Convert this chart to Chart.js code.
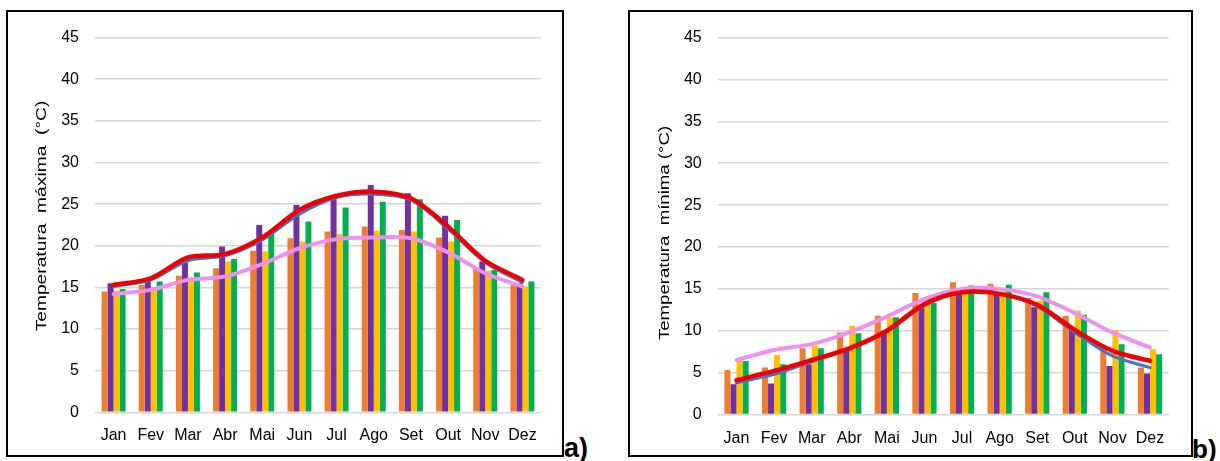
<!DOCTYPE html>
<html>
<head>
<meta charset="utf-8">
<script src="https://cdn.jsdelivr.net/npm/chart.js@4.4.1/dist/chart.umd.min.js"></script>
<style>
  html, body { margin: 0; padding: 0; background: #fff; width: 1220px; height: 461px; overflow: hidden; position: relative; }
  .panel { position: absolute; border: 2px solid #000; box-sizing: border-box; background: #fff; }
  .panel canvas { display: block; }
  .tag { position: absolute; font-family: "Liberation Sans", Arial, sans-serif; font-weight: bold; line-height: 1; color: #000; }
</style>
</head>
<body>
<div class="panel" style="left:6px; top:10px; width:558px; height:447px;"><canvas id="chartMax" width="554" height="443"></canvas></div>
<div class="panel" style="left:628px; top:10px; width:565px; height:447px;"><canvas id="chartMin" width="561" height="443"></canvas></div>
<div class="tag" style="left:564px; top:435px; font-size:27px;">a)</div>
<div class="tag" style="left:1192px; top:436px; font-size:26px;">b)</div>

<script>
// Month labels and y-axis ticks
const months = ['Jan', 'Fev', 'Mar', 'Abr', 'Mai', 'Jun', 'Jul', 'Ago', 'Set', 'Out', 'Nov', 'Dez'];
const yTickValues = [0, 5, 10, 15, 20, 25, 30, 35, 40, 45];

// (a) Temperatura máxima (°C)
const maxOrange = [14.5, 15.3, 16.4, 17.3, 19.4, 20.9, 21.7, 22.3, 21.9, 21.0, 17.2, 15.3];
const maxPurple = [15.5, 15.8, 18.0, 19.9, 22.5, 24.9, 26.1, 27.3, 26.3, 23.6, 18.1, 15.5];
const maxYellow = [14.6, 15.0, 16.2, 18.1, 19.3, 20.5, 21.4, 21.8, 21.7, 20.5, 17.0, 15.1];
const maxGreen  = [14.8, 15.7, 16.8, 18.4, 21.5, 22.9, 24.6, 25.3, 25.6, 23.1, 17.1, 15.7];
const maxBlue   = [15.1, 15.9, 18.2, 18.8, 20.7, 23.8, 25.8, 26.2, 25.5, 22.0, 18.0, 15.6];
const maxRed    = [15.3, 16.1, 18.6, 19.0, 21.0, 24.3, 26.0, 26.5, 25.7, 22.3, 18.2, 15.9];
const maxPink   = [14.2, 14.7, 15.9, 16.3, 17.8, 19.7, 20.8, 21.0, 20.9, 19.2, 16.7, 15.1];

// (b) Temperatura mínima (°C)
const minOrange = [5.3, 5.6, 7.9, 9.8, 11.8, 14.5, 15.8, 15.6, 13.9, 11.8, 7.8, 5.6];
const minPurple = [3.6, 3.7, 6.0, 7.9, 10.0, 13.0, 14.5, 14.3, 12.8, 10.2, 5.8, 4.9];
const minYellow = [6.5, 7.1, 8.2, 10.6, 11.6, 13.3, 14.8, 14.7, 13.6, 12.4, 10.1, 7.8];
const minGreen  = [6.4, 6.0, 7.9, 9.7, 11.6, 13.3, 15.4, 15.5, 14.6, 11.9, 8.4, 7.2];
const minBlue   = [3.8, 4.8, 6.3, 7.8, 9.9, 13.0, 14.6, 14.4, 12.9, 9.8, 7.0, 5.6];
const minRed    = [4.1, 5.2, 6.5, 7.9, 10.0, 13.2, 14.6, 14.4, 13.1, 10.1, 7.6, 6.4];
const minPink   = [6.5, 7.7, 8.4, 9.8, 11.7, 13.8, 15.0, 15.0, 14.1, 12.1, 9.8, 8.0];

const FONT = '"Liberation Sans", Arial, sans-serif';
const COLORS = {
  orange: '#ED7D31', purple: '#7030A0', yellow: '#FFC000', green: '#00B050',
  blue: '#4472C4', red: '#EE0000', pink: '#EE90EE'
};

// Rotated y-axis title, stretched slightly along its length
const yTitlePlugin = {
  id: 'yTitle',
  afterDraw(chart, args, opts) {
    const ctx = chart.ctx;
    ctx.save();
    ctx.translate(opts.x, opts.y);
    ctx.rotate(-Math.PI / 2);
    ctx.scale(opts.stretch, 1);
    ctx.font = '15px ' + FONT;
    ctx.fillStyle = '#000';
    ctx.textAlign = 'center';
    ctx.textBaseline = 'alphabetic';
    ctx.fillText(opts.text, 0, 0);
    ctx.restore();
  }
};

function lineSet(data, color, width, order) {
  return { type: 'line', data, borderColor: color, backgroundColor: color, borderWidth: width,
           pointRadius: 0, tension: 0.3, fill: false, order, borderCapStyle: 'round', borderJoinStyle: 'round' };
}
function barSet(data, color) {
  return { type: 'bar', data, backgroundColor: color, borderWidth: 0, order: 10 };
}

function makeChart(id, s, area, title) {
  const canvas = document.getElementById(id);
  const W = canvas.width, H = canvas.height, XH = 40;
  return new Chart(canvas, {
    type: 'bar',
    data: {
      labels: months,
      datasets: [
        lineSet(s.red, COLORS.red, 4.5, 1),
        lineSet(s.blue, COLORS.blue, 3, 2),
        lineSet(s.pink, COLORS.pink, 4, 3),
        barSet(s.orange, COLORS.orange),
        barSet(s.purple, COLORS.purple),
        barSet(s.yellow, COLORS.yellow),
        barSet(s.green, COLORS.green)
      ]
    },
    options: {
      responsive: false,
      animation: false,
      devicePixelRatio: 1,
      layout: { padding: { left: 0, top: area.top, right: W - area.right, bottom: H - area.bottom - XH } },
      datasets: { bar: { categoryPercentage: 0.645, barPercentage: 1 } },
      plugins: {
        legend: { display: false },
        tooltip: { enabled: false },
        yTitle: title
      },
      scales: {
        x: {
          grid: { display: false, drawTicks: false },
          border: { display: false },
          ticks: { color: '#000', padding: 14, maxRotation: 0, autoSkip: false, font: { family: FONT, size: 16 } },
          afterFit(scale) { scale.height = XH; }
        },
        y: {
          min: 0, max: 45,
          afterBuildTicks(scale) { scale.ticks = yTickValues.map(v => ({ value: v })); },
          grid: { color: '#d6d6d6', lineWidth: 1.5, drawTicks: false },
          border: { display: false },
          ticks: { color: '#000', padding: 16, font: { family: FONT, size: 16 } },
          afterFit(scale) { scale.width = area.left; }
        }
      }
    },
    plugins: [yTitlePlugin]
  });
}

makeChart('chartMax',
  { orange: maxOrange, purple: maxPurple, yellow: maxYellow, green: maxGreen, blue: maxBlue, red: maxRed, pink: maxPink },
  { left: 87, right: 533, top: 20, bottom: 400.3 },
  { text: 'Temperatura  máxima  (°C)', x: 38, y: 204, stretch: 1.28 });

makeChart('chartMin',
  { orange: minOrange, purple: minPurple, yellow: minYellow, green: minGreen, blue: minBlue, red: minRed, pink: minPink },
  { left: 87.7, right: 538.8, top: 21.5, bottom: 402.5 },
  { text: 'Temperatura  mínima (°C)', x: 39, y: 221, stretch: 1.24 });
</script>
</body>
</html>
